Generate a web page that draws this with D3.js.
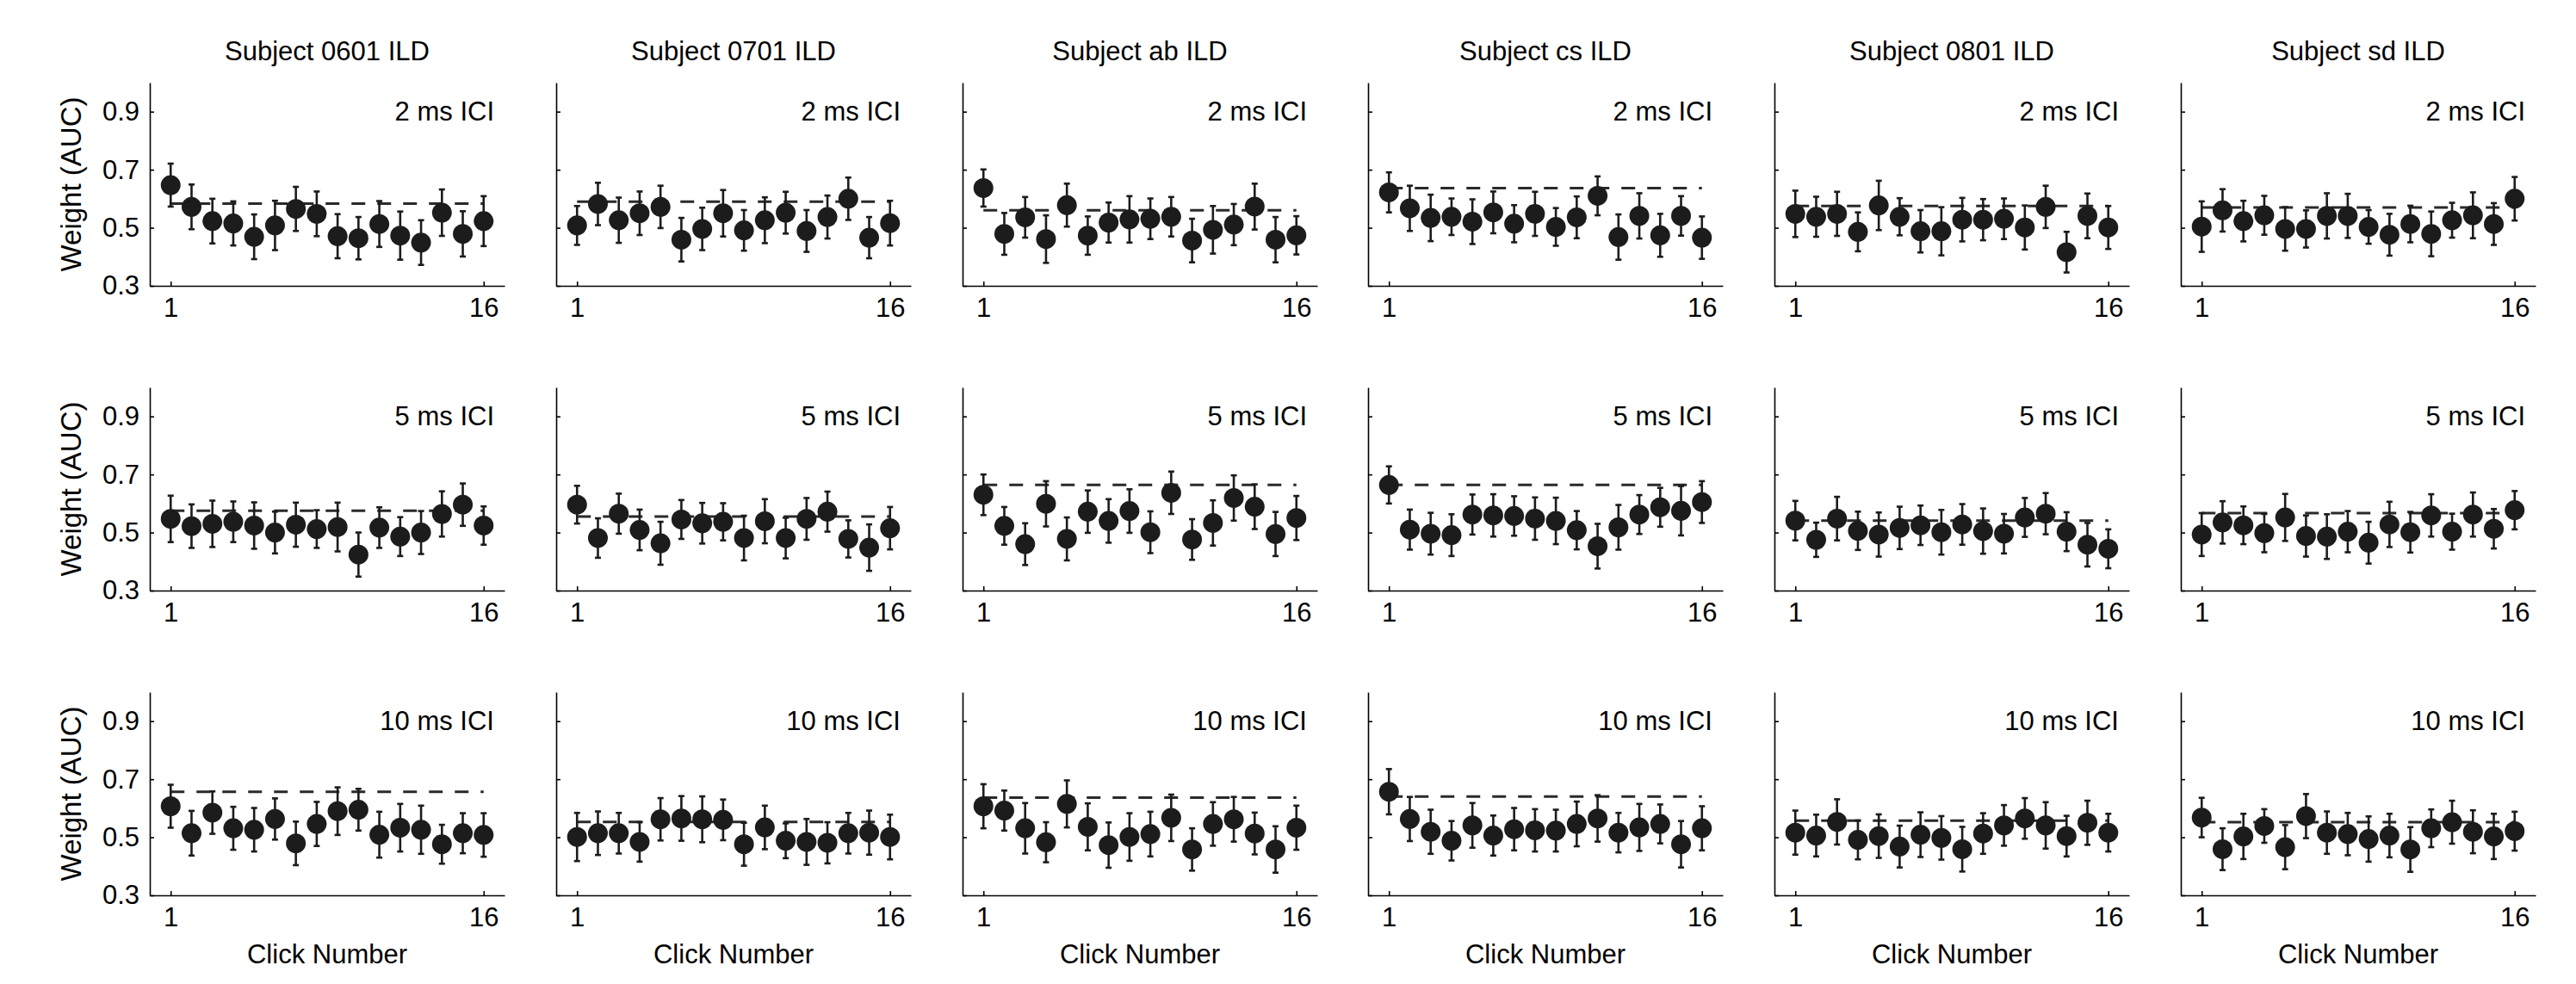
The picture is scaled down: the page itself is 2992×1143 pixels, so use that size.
<!DOCTYPE html>
<html>
<head>
<meta charset="utf-8">
<script src="https://cdn.jsdelivr.net/npm/d3@7/dist/d3.min.js"></script>
<style>
  body { margin: 0; background: #fff; }
  svg { display: block; font-family: "Liberation Sans", Arial, Helvetica, sans-serif; }
</style>
</head>
<body>
<div id="chart"></div>
<script>
// --- DATA ---
const subjects = ["0601", "0701", "ab", "cs", "0801", "sd"];
const iciLabels = ["2 ms ICI", "5 ms ICI", "10 ms ICI"];
const clicks = d3.range(1, 17);
const yTicks = [0.3, 0.5, 0.7, 0.9];
const xTicks = [1, 16];

// mean weight per click, one row per subject
const mean2 = [
  [0.647,0.572,0.523,0.515,0.469,0.508,0.565,0.548,0.471,0.464,0.513,0.473,0.449,0.552,0.479,0.523],
  [0.508,0.582,0.526,0.550,0.572,0.459,0.496,0.550,0.491,0.526,0.552,0.489,0.537,0.600,0.466,0.516],
  [0.637,0.479,0.536,0.461,0.578,0.473,0.518,0.529,0.531,0.538,0.456,0.493,0.511,0.573,0.459,0.474],
  [0.622,0.567,0.534,0.538,0.521,0.553,0.514,0.548,0.503,0.536,0.610,0.468,0.541,0.474,0.541,0.466],
  [0.548,0.538,0.548,0.486,0.577,0.538,0.488,0.488,0.528,0.528,0.531,0.501,0.572,0.416,0.541,0.501],
  [0.504,0.560,0.523,0.543,0.496,0.496,0.541,0.541,0.503,0.476,0.513,0.479,0.526,0.543,0.513,0.600]
];
const err2 = [
  [0.074,0.077,0.077,0.076,0.077,0.085,0.076,0.077,0.076,0.073,0.079,0.083,0.077,0.080,0.078,0.086],
  [0.067,0.073,0.078,0.075,0.073,0.075,0.073,0.080,0.070,0.079,0.072,0.072,0.074,0.073,0.071,0.077],
  [0.064,0.072,0.070,0.082,0.074,0.066,0.069,0.080,0.070,0.068,0.075,0.082,0.071,0.079,0.078,0.066],
  [0.069,0.078,0.080,0.063,0.077,0.072,0.064,0.076,0.065,0.072,0.067,0.078,0.078,0.074,0.068,0.073],
  [0.080,0.069,0.076,0.067,0.085,0.064,0.073,0.083,0.075,0.071,0.070,0.076,0.073,0.070,0.077,0.074],
  [0.087,0.073,0.070,0.067,0.075,0.064,0.078,0.076,0.058,0.072,0.063,0.077,0.060,0.079,0.072,0.075]
];
const ref2 = [0.583, 0.590, 0.560, 0.637, 0.575, 0.570];

const mean5 = [
  [0.547,0.522,0.530,0.537,0.524,0.500,0.527,0.512,0.519,0.424,0.517,0.486,0.500,0.564,0.596,0.524],
  [0.596,0.481,0.565,0.509,0.463,0.545,0.532,0.537,0.481,0.539,0.481,0.547,0.572,0.478,0.448,0.515],
  [0.630,0.523,0.460,0.599,0.478,0.572,0.540,0.574,0.501,0.637,0.476,0.533,0.619,0.589,0.495,0.550],
  [0.664,0.510,0.496,0.491,0.562,0.559,0.557,0.548,0.540,0.508,0.453,0.518,0.562,0.587,0.575,0.605],
  [0.541,0.475,0.548,0.506,0.493,0.516,0.525,0.501,0.528,0.505,0.496,0.552,0.565,0.503,0.458,0.444],
  [0.493,0.535,0.525,0.498,0.552,0.488,0.486,0.503,0.465,0.528,0.501,0.559,0.503,0.562,0.513,0.577]
];
const err5 = [
  [0.080,0.075,0.080,0.070,0.080,0.072,0.076,0.065,0.084,0.076,0.070,0.067,0.074,0.078,0.073,0.066],
  [0.065,0.068,0.069,0.070,0.074,0.067,0.070,0.064,0.077,0.076,0.070,0.072,0.069,0.064,0.080,0.073],
  [0.070,0.065,0.072,0.078,0.074,0.073,0.075,0.075,0.072,0.073,0.070,0.078,0.078,0.077,0.076,0.076],
  [0.064,0.069,0.072,0.072,0.069,0.073,0.068,0.073,0.080,0.066,0.077,0.077,0.067,0.067,0.085,0.072],
  [0.068,0.059,0.075,0.066,0.076,0.073,0.068,0.077,0.070,0.078,0.068,0.067,0.071,0.067,0.075,0.067],
  [0.074,0.073,0.065,0.066,0.081,0.071,0.077,0.071,0.072,0.078,0.070,0.073,0.062,0.076,0.068,0.066]
];
const ref5 = [0.575, 0.555, 0.664, 0.664, 0.541, 0.567];

const mean10 = [
  [0.607,0.514,0.585,0.531,0.526,0.563,0.479,0.546,0.590,0.595,0.509,0.533,0.526,0.476,0.514,0.508],
  [0.501,0.514,0.514,0.484,0.562,0.565,0.562,0.560,0.476,0.534,0.488,0.484,0.481,0.514,0.516,0.501],
  [0.607,0.592,0.531,0.483,0.615,0.536,0.473,0.501,0.511,0.567,0.458,0.546,0.562,0.513,0.458,0.533],
  [0.657,0.563,0.519,0.488,0.541,0.506,0.528,0.524,0.523,0.546,0.565,0.516,0.534,0.546,0.476,0.531],
  [0.516,0.506,0.553,0.491,0.504,0.468,0.509,0.498,0.459,0.513,0.541,0.565,0.541,0.504,0.550,0.516],
  [0.568,0.459,0.503,0.539,0.466,0.573,0.516,0.511,0.494,0.506,0.458,0.531,0.552,0.519,0.503,0.521]
];
const err10 = [
  [0.074,0.077,0.073,0.074,0.075,0.071,0.075,0.076,0.082,0.072,0.079,0.082,0.083,0.067,0.069,0.075],
  [0.083,0.075,0.070,0.068,0.073,0.077,0.079,0.070,0.074,0.075,0.060,0.079,0.071,0.070,0.076,0.077],
  [0.076,0.069,0.087,0.069,0.081,0.081,0.078,0.082,0.077,0.080,0.073,0.075,0.077,0.072,0.080,0.076],
  [0.078,0.076,0.076,0.068,0.077,0.069,0.073,0.073,0.072,0.077,0.080,0.068,0.081,0.067,0.080,0.076],
  [0.076,0.072,0.078,0.067,0.075,0.072,0.077,0.075,0.077,0.070,0.070,0.070,0.080,0.070,0.076,0.065],
  [0.068,0.072,0.078,0.058,0.076,0.076,0.073,0.073,0.078,0.075,0.077,0.065,0.074,0.074,0.078,0.067]
];
const ref10 = [0.657, 0.553, 0.637, 0.640, 0.557, 0.552];

const means = [mean2, mean5, mean10];
const errs = [err2, err5, err10];
const refs = [ref2, ref5, ref10];

// --- LAYOUT ---
const W = 2992, H = 1143;
const panelW = 412, panelH = 236;
const colX = [174, 646, 1118, 1589, 2061, 2533];
const rowY = [96, 450, 804];
const ink = "#1c1c1c";
const fontSize = 31;

const svg = d3.select("#chart").append("svg")
  .attr("width", W).attr("height", H);
svg.append("rect").attr("width", W).attr("height", H).attr("fill", "#fff");

const x = d3.scaleLinear().domain([0, 17]).range([0, panelW]);
const y = d3.scaleLinear().domain([0.3, 1.0]).range([panelH, 0]);

// column titles
subjects.forEach((s, c) => {
  svg.append("text")
    .attr("x", colX[c] + panelW / 2).attr("y", 70)
    .attr("text-anchor", "middle").attr("font-size", fontSize).attr("fill", "#000")
    .text(`Subject ${s} ILD`);
});

iciLabels.forEach((label, r) => {
  // y axis title on the left column
  svg.append("text")
    .attr("transform", `translate(82,${rowY[r] + panelH / 2}) rotate(-90)`)
    .attr("text-anchor", "middle").attr("dominant-baseline", "central")
    .attr("font-size", 33).attr("fill", "#000")
    .text("Weight (AUC)");

  subjects.forEach((s, c) => {
    const g = svg.append("g").attr("transform", `translate(${colX[c]},${rowY[r]})`);
    const data = clicks.map((k, i) => ({ k, m: means[r][c][i], e: errs[r][c][i] }));

    // axes (ticks point inward, MATLAB style)
    const yAxis = d3.axisLeft(y).tickValues(yTicks).tickSizeInner(-5).tickSizeOuter(0)
      .tickPadding(12).tickFormat(c === 0 ? d3.format(".1f") : () => "");
    const xAxis = d3.axisBottom(x).tickValues(xTicks).tickSizeInner(-5).tickSizeOuter(0)
      .tickPadding(14).tickFormat(d3.format("d"));

    const ya = g.append("g").call(yAxis);
    const xa = g.append("g").attr("transform", `translate(0,${panelH})`).call(xAxis);
    [ya, xa].forEach(a => {
      a.selectAll("path, line").attr("stroke", "#000").attr("stroke-width", 1.6);
      a.selectAll("text").attr("font-size", fontSize).attr("fill", "#000").attr("font-family", null);
    });

    // reference (dashed) line
    g.append("line")
      .attr("x1", x(1)).attr("x2", x(16))
      .attr("y1", y(refs[r][c])).attr("y2", y(refs[r][c]))
      .attr("stroke", "#2a2a2a").attr("stroke-width", 3).attr("stroke-dasharray", "16,14");

    // error bars
    const eb = g.selectAll(".eb").data(data).enter().append("g");
    eb.append("line")
      .attr("x1", d => x(d.k)).attr("x2", d => x(d.k))
      .attr("y1", d => y(d.m + d.e)).attr("y2", d => y(d.m - d.e))
      .attr("stroke", ink).attr("stroke-width", 2.6);
    [1, -1].forEach(sg => {
      eb.append("line")
        .attr("x1", d => x(d.k) - 3.5).attr("x2", d => x(d.k) + 3.5)
        .attr("y1", d => y(d.m + sg * d.e)).attr("y2", d => y(d.m + sg * d.e))
        .attr("stroke", ink).attr("stroke-width", 2.6);
    });

    // markers
    g.selectAll(".pt").data(data).enter().append("circle")
      .attr("cx", d => x(d.k)).attr("cy", d => y(d.m))
      .attr("r", 11.5).attr("fill", ink);

    // ICI label
    g.append("text")
      .attr("x", panelW - 12).attr("y", y(0.9))
      .attr("text-anchor", "end").attr("dominant-baseline", "central")
      .attr("font-size", fontSize).attr("fill", "#000")
      .text(label);

    // x axis title on the bottom row
    if (r === 2) {
      svg.append("text")
        .attr("x", colX[c] + panelW / 2).attr("y", rowY[r] + panelH + 79)
        .attr("text-anchor", "middle").attr("font-size", fontSize).attr("fill", "#000")
        .text("Click Number");
    }
  });
});
</script>
</body>
</html>
